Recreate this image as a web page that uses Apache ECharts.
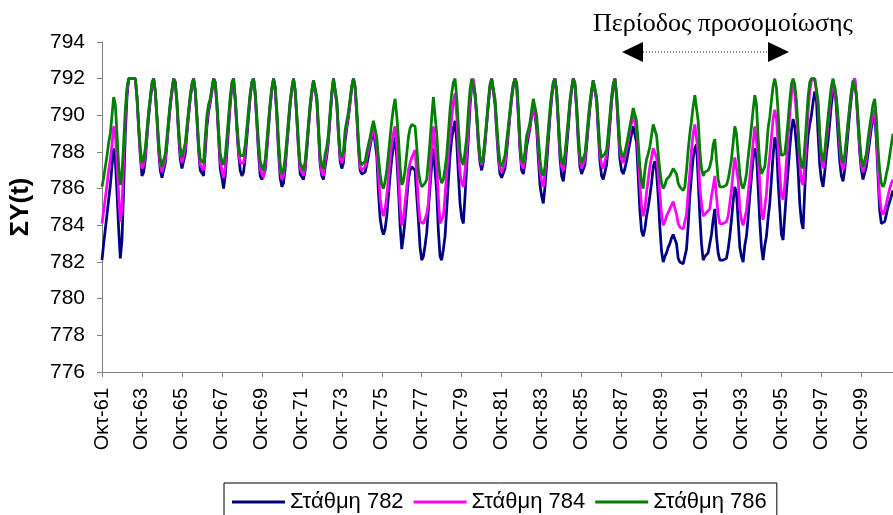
<!DOCTYPE html>
<html>
<head>
<meta charset="utf-8">
<script src="https://cdn.jsdelivr.net/npm/echarts@6/dist/echarts.min.js"></script>
<style>
html,body{margin:0;padding:0;background:#fff;}
#chart{width:893px;height:515px;}
</style>
</head>
<body>
<div id="chart"></div>
<script>
// Month abbreviations (hydrological year starts in October) and years
var monthNames = ['Οκτ','Νοε','Δεκ','Ιαν','Φεβ','Μαρ','Απρ','Μαϊ','Ιουν','Ιουλ','Αυγ','Σεπ'];
var startYear = 1961;
var yTicks = [776, 778, 780, 782, 784, 786, 788, 790, 792, 794];
var seriesNames = ['Στάθμη 782', 'Στάθμη 784', 'Στάθμη 786'];

// Στάθμη 782 (monthly, Oct 1961 ...)
var level782 = [
782.1,783.0,783.8,784.6,785.4,786.2,787.2,788.2,787.6,785.8,783.8,782.2,
783.2,786.0,789.0,791.0,792,792,792,792,792,791.0,789.3,787.8,
786.7,786.9,787.6,788.8,789.9,790.8,791.6,792,791.3,789.8,788.1,787.0,
786.6,786.7,787.4,788.4,789.5,790.5,791.3,792,791.8,790.6,788.9,787.6,
787.1,787.2,787.9,789.0,790.0,790.9,791.6,792,791.3,789.8,788.1,787.0,
786.9,786.7,788.0,789.4,790.2,790.7,791.3,792,791.8,790.5,788.8,787.1,
786.6,786.0,786.7,788.0,789.3,790.6,791.6,792,790.8,789.2,787.9,787.0,
786.7,786.9,787.7,788.8,789.9,791.0,791.8,792,791.1,789.5,787.9,786.7,
786.5,786.4,787.0,788.1,789.3,790.5,791.4,792,791.4,789.9,788.0,786.6,
786.1,786.3,787.1,788.3,789.4,790.6,791.4,792,791.3,789.8,788.1,786.8,
786.7,786.5,787.0,788.1,789.3,790.4,791.2,791.9,792,790.8,789.1,787.3,
786.7,786.5,787.2,787.8,788.6,789.9,791.1,792,792,790.6,788.9,787.5,
787.1,787.4,788.6,789.3,789.9,790.7,791.5,792,791.5,790.0,788.2,787.0,
786.8,786.7,786.9,787.3,787.8,788.3,788.8,789.2,789.1,787.8,785.8,784.4,
783.8,783.5,783.8,784.5,785.6,786.7,787.6,788.3,788.8,787.7,786.0,784.0,
782.7,783.4,784.3,785.4,786.5,787.0,787.2,787.2,787.0,785.6,784.3,782.8,
782.1,782.3,782.9,783.6,784.9,786.1,787.3,788.2,788.3,785.8,783.7,782.3,
782.1,782.7,783.4,784.9,786.4,787.8,788.7,789.3,789.7,788.6,786.8,785.2,
784.4,784.1,785.6,787.2,788.8,790.5,791.6,791.9,791.1,789.9,788.4,787.4,
787.0,787.5,788.4,789.5,790.6,791.5,792,791.9,790.6,789.1,787.7,786.8,
786.6,786.5,787.1,788.0,789.0,790.0,790.9,791.6,792,791.6,790.0,788.1,
787.0,786.8,787.4,788.3,788.8,789.3,790.0,790.6,790.6,789.3,787.7,786.2,
785.6,785.2,786.1,787.3,788.6,789.9,790.9,791.7,792,791.2,789.5,787.7,
786.7,786.4,787.1,788.2,789.3,790.5,791.4,792,791.6,790.3,788.5,787.2,
786.8,786.7,787.3,788.3,789.4,790.4,791.2,791.9,792,790.8,789.1,787.5,
786.7,786.5,786.9,787.3,788.3,789.5,790.7,791.6,792,791.0,789.3,787.6,
787.0,786.8,787.1,787.5,788.0,788.5,789.0,789.4,789.5,788.5,786.7,784.8,
783.7,783.4,783.8,784.5,785.0,785.6,786.3,787.2,787.5,786.9,785.6,783.9,
782.6,782.0,782.3,782.5,782.8,783.0,783.3,783.5,783.6,783.0,782.2,782.0,
781.9,781.9,782.0,782.7,784.0,785.6,786.7,787.7,788.2,788.4,786.5,784.5,
783.0,782.1,782.3,782.4,782.5,782.6,783.5,784.3,784.9,783.4,782.5,782.1,
782.1,782.1,782.1,782.2,782.7,783.4,784.3,785.3,786.1,785.8,784.3,782.8,
782.3,782.0,782.9,783.4,784.4,785.6,786.6,787.6,788.2,787.9,786.1,784.2,
782.8,782.1,782.9,783.4,784.4,785.2,786.5,787.8,788.8,788.5,786.4,784.9,
783.5,783.2,784.5,785.8,787.0,788.2,789.2,789.8,789.4,788.4,787.1,785.2,
784.2,783.8,785.9,787.6,788.9,789.5,790.0,790.7,791.3,790.9,789.0,787.3,
786.5,786.1,786.9,787.9,788.6,789.6,790.6,791.3,791.6,790.4,788.9,787.5,
786.7,786.4,787.0,788.0,789.1,790.1,791.0,791.7,792,791.0,789.5,788.0,
787.0,786.5,786.4,787.2,787.9,788.6,789.3,789.8,790.0,788.7,786.7,784.8,
784.1,784.0,784.2,784.6,785.0,785.3,785.6,785.9
];

// Στάθμη 784
var level784 = [
784.1,784.8,785.5,786.2,787.0,787.6,788.4,789.4,789.0,787.5,785.7,784.2,
785.0,787.5,789.8,791.3,792,792,792,792,792,791.0,789.4,788.0,
787.1,787.3,787.9,789.0,790.1,790.9,791.7,792,791.3,789.9,788.3,787.3,
786.9,787.0,787.6,788.6,789.6,790.6,791.3,792,791.8,790.7,789.1,787.9,
787.4,787.5,788.2,789.2,790.1,791.0,791.7,792,791.3,789.9,788.3,787.3,
787.2,787.0,788.4,789.7,790.4,790.8,791.4,792,791.8,790.6,789.0,787.5,
787.0,786.6,787.2,788.4,789.6,790.8,791.7,792,790.9,789.4,788.1,787.4,
787.3,787.4,788.1,789.1,790.1,791.1,791.8,792,791.2,789.7,788.2,787.1,
786.8,786.6,787.2,788.3,789.5,790.6,791.4,792,791.5,790.1,788.3,787.0,
786.5,786.7,787.4,788.5,789.6,790.7,791.4,792,791.3,789.9,788.3,787.1,
786.9,786.7,787.2,788.3,789.4,790.5,791.3,791.9,792,790.9,789.2,787.5,
786.9,786.7,787.5,788.0,788.8,790.0,791.2,792,792,790.7,789.0,787.7,
787.4,787.7,788.9,789.5,790.0,790.8,791.6,792,791.5,790.1,788.4,787.2,
787.0,786.9,787.2,787.7,788.1,788.5,789.0,789.4,789.4,788.3,786.8,785.5,
784.8,784.5,784.9,785.6,786.6,787.6,788.4,789.0,789.4,788.4,786.9,785.1,
784.0,784.4,785.2,786.1,787.0,787.4,787.7,787.9,788.1,786.8,785.2,784.2,
784.1,784.1,784.1,784.6,785.2,786.8,788.2,789.4,789.5,787.2,785.5,784.1,
784.1,784.5,785.6,786.9,787.9,788.9,789.9,790.7,791.2,790.0,788.2,786.8,
786.3,786.1,787.0,787.9,789.3,790.8,791.7,792,791.2,790.0,788.6,787.6,
787.3,787.7,788.6,789.6,790.7,791.6,792,792,790.8,789.4,788.0,787.1,
786.9,786.8,787.4,788.3,789.2,790.1,791.0,791.7,792,791.7,790.2,788.4,
787.3,787.1,787.7,788.6,789.0,789.4,790.0,790.6,790.6,789.6,788.3,787.0,
786.4,786.1,786.8,787.8,789.0,790.1,791.1,791.8,792,791.3,789.7,788.1,
787.2,787.0,787.6,788.6,789.6,790.7,791.5,792,791.7,790.5,788.8,787.6,
787.1,787.0,787.6,788.6,789.6,790.6,791.3,791.9,792,790.9,789.4,787.9,
787.3,787.1,787.5,787.8,788.7,789.8,790.9,791.7,792,791.1,789.6,788.1,
787.6,787.4,787.7,788.1,788.6,789.1,789.6,790.0,790.1,789.2,787.9,786.3,
785.0,784.5,784.9,785.8,786.5,787.2,787.7,788.2,788.3,787.7,786.9,785.7,
784.6,784.0,784.2,784.5,784.7,784.9,785.1,785.3,785.4,784.6,784.1,783.9,
783.8,783.8,783.9,784.6,785.8,786.9,788.1,789.0,789.5,789.6,788.0,786.0,
785.2,784.5,784.6,784.7,784.8,784.9,785.6,786.1,786.7,785.6,784.6,784.1,
784.1,784.1,784.1,784.2,784.5,785.2,785.9,786.9,787.7,787.6,786.5,784.9,
784.3,784.0,784.4,784.8,785.7,786.6,787.5,788.5,789.4,789.4,787.8,786.3,
784.8,784.3,785.0,785.7,787.0,787.8,788.8,789.8,790.3,789.8,788.4,786.8,
785.6,785.4,786.2,787.5,788.8,790.0,791.1,791.7,791.3,790.0,788.9,787.4,
786.4,786.2,787.4,788.6,790.2,791.3,791.9,792,792,792,790.6,788.8,
787.6,787.1,787.7,788.6,789.5,790.4,791.2,791.8,791.9,790.8,789.6,788.3,
787.4,787.0,787.5,788.5,789.5,790.4,791.2,791.8,792,791.1,789.7,788.3,
787.3,786.9,786.8,787.6,788.3,789.0,789.6,790.1,790.3,789.1,787.2,785.5,
784.8,784.6,784.8,785.2,785.6,786.0,786.3,786.5
];

// Στάθμη 786
var level786 = [
786.1,786.6,787.2,787.8,788.5,789.0,790.0,791.0,790.6,789.0,787.3,786.2,
786.8,788.5,790.3,791.5,792,792,792,792,792,791.0,789.5,788.2,
787.4,787.6,788.2,789.2,790.2,791.0,791.8,792,791.3,790.0,788.6,787.6,
787.2,787.3,787.9,788.8,789.8,790.7,791.4,792,791.8,790.8,789.3,788.2,
787.7,787.8,788.5,789.4,790.3,791.1,791.7,792,791.4,790.0,788.5,787.6,
787.5,787.4,788.8,790.0,790.6,790.9,791.5,792,791.8,790.7,789.2,787.9,
787.5,787.3,787.8,788.8,789.9,791.0,791.8,792,791.0,789.6,788.4,787.8,
787.7,787.8,788.4,789.3,790.3,791.2,791.8,792,791.3,789.9,788.5,787.5,
787.2,787.0,787.6,788.6,789.7,790.7,791.5,792,791.6,790.3,788.6,787.3,
786.8,787.0,787.7,788.7,789.8,790.8,791.5,792,791.4,790.0,788.5,787.4,
787.2,787.0,787.5,788.5,789.6,790.6,791.4,791.9,792,791.0,789.4,787.8,
787.3,787.1,787.9,788.3,789.0,790.2,791.3,792,792,790.8,789.2,788.0,
787.7,788.0,789.2,789.7,790.2,790.9,791.6,792,791.6,790.3,788.6,787.5,
787.3,787.2,787.5,788.0,788.4,788.8,789.3,789.7,789.7,788.8,787.7,786.8,
786.2,786.0,786.4,787.0,787.9,788.8,789.7,790.4,790.9,790.0,788.8,787.2,
786.2,786.4,787.0,787.9,788.8,789.3,789.5,789.6,789.4,788.3,787.0,786.4,
786.1,786.2,786.3,786.5,787.5,788.6,789.9,791.0,791.0,789.0,787.5,786.6,
786.3,786.5,787.1,787.8,789.0,790.3,791.2,791.8,792,791.0,789.4,788.0,
787.5,787.3,788.0,788.8,790.2,791.4,792,792,791.2,790.2,788.8,787.7,
787.4,787.8,788.8,789.7,790.8,791.7,792,792,790.9,789.6,788.3,787.4,
787.2,787.2,787.8,788.6,789.4,790.3,791.1,791.7,792,791.8,790.4,788.6,
787.6,787.4,788.0,788.9,789.2,789.6,790.3,790.9,790.9,790.0,788.8,787.6,
786.9,786.7,787.2,788.1,789.2,790.3,791.2,791.8,792,791.4,789.8,788.3,
787.5,787.3,787.9,788.8,789.8,790.8,791.5,792,791.8,790.6,789.0,787.8,
787.4,787.3,787.9,788.8,789.8,790.7,791.4,791.9,792,791.0,789.6,788.2,
787.7,787.6,787.9,788.1,789.0,790.0,791.0,791.7,792,791.2,789.8,788.4,
787.9,787.7,788.0,788.4,788.9,789.4,789.9,790.4,790.5,789.7,788.5,787.2,
786.4,786.0,787.0,787.6,787.9,788.3,788.9,789.5,789.6,788.9,787.9,787.0,
786.3,786.0,786.2,786.5,786.6,786.7,786.9,787.1,787.2,786.8,786.3,786.1,
786.0,785.9,786.1,787.0,788.1,789.0,789.7,790.5,791.1,791.2,789.7,788.1,
787.1,786.7,786.9,787.0,787.0,787.2,787.6,788.4,788.7,787.6,786.5,786.1,
786.1,786.1,786.1,786.2,786.5,787.0,787.6,788.5,789.4,789.0,787.9,786.8,
786.2,786.0,786.3,786.8,787.7,788.5,789.4,790.3,791.1,790.6,788.8,787.4,
786.8,786.7,787.2,788.1,789.3,789.9,790.8,791.6,792,791.5,790.2,788.6,
787.8,787.7,787.9,788.7,789.7,790.8,791.7,792,791.7,790.8,789.3,787.9,
787.3,787.1,788.3,789.6,791.0,791.8,792,792,792,792,790.8,789.0,
787.9,787.5,788.0,789.0,789.9,790.8,791.6,792,792,791.0,789.9,788.7,
787.8,787.4,787.8,788.7,789.6,790.5,791.3,791.9,792,791.2,789.9,788.6,
787.6,787.2,787.1,787.9,788.7,789.4,790.0,790.6,790.9,789.9,788.2,787.0,
786.3,786.1,786.3,786.8,787.2,787.8,788.4,789.0
];

// Category labels: one per month, built from the month names above
var categories = [];
for (var i = 0; i < level782.length; i++) {
  var m = i % 12;
  var yr = startYear + Math.floor((i + 9) / 12);
  categories.push(monthNames[m] + '-' + String(yr % 100).padStart(2, '0'));
}

var chart = echarts.init(document.getElementById('chart'), null, {renderer: 'canvas'});
var font = 'Liberation Sans';
var axisColor = '#808080';

chart.setOption({
  animation: false,
  backgroundColor: '#ffffff',
  grid: {left: 101, right: 0, top: 42, bottom: 143, containLabel: false},
  xAxis: {
    type: 'category',
    data: categories,
    boundaryGap: false,
    axisLine: {lineStyle: {color: axisColor, width: 1}},
    axisTick: {show: true, interval: 23, length: 5, lineStyle: {color: axisColor}},
    axisLabel: {interval: 23, rotate: 90, margin: 16, color: '#000', fontFamily: font, fontSize: 20},
    splitLine: {show: false}
  },
  yAxis: {
    type: 'value',
    min: yTicks[0],
    max: yTicks[yTicks.length - 1],
    interval: 2,
    name: 'ΣY(t)',
    nameLocation: 'middle',
    nameRotate: 90,
    nameGap: 68,
    nameTextStyle: {fontFamily: font, fontSize: 26, fontWeight: 'bold', color: '#000'},
    axisLine: {show: true, lineStyle: {color: axisColor, width: 1}},
    axisTick: {show: true, length: 5, lineStyle: {color: axisColor}},
    axisLabel: {margin: 17, color: '#000', fontFamily: font, fontSize: 21},
    splitLine: {show: false}
  },
  legend: {
    data: seriesNames,
    left: 224,
    top: 483,
    orient: 'horizontal',
    icon: 'rect',
    itemWidth: 53,
    itemHeight: 3,
    itemGap: 10,
    padding: [8, 10, 10, 8],
    borderColor: '#000',
    borderWidth: 1,
    textStyle: {fontFamily: font, fontSize: 22, color: '#000'}
  },
  graphic: [
    {type: 'text', left: 593, top: 11, style: {text: 'Περίοδος προσομοίωσης', font: '26px "Liberation Serif"', fill: '#000'}},
    {type: 'polygon', shape: {points: [[622, 52], [643, 42], [643, 62]]}, style: {fill: '#000'}},
    {type: 'polygon', shape: {points: [[789, 52], [768, 42], [768, 62]]}, style: {fill: '#000'}},
    {type: 'line', shape: {x1: 643, y1: 52, x2: 768, y2: 52}, style: {stroke: '#000', lineWidth: 1, lineDash: [1, 2]}}
  ],
  series: [
    {name: seriesNames[0], type: 'line', data: level782, showSymbol: false, color: '#000080', lineStyle: {width: 2.75, color: '#000080'}},
    {name: seriesNames[1], type: 'line', data: level784, showSymbol: false, color: '#FF00FF', lineStyle: {width: 2.75, color: '#FF00FF'}},
    {name: seriesNames[2], type: 'line', data: level786, showSymbol: false, color: '#008000', lineStyle: {width: 2.75, color: '#008000'}}
  ]
});
</script>
</body>
</html>
